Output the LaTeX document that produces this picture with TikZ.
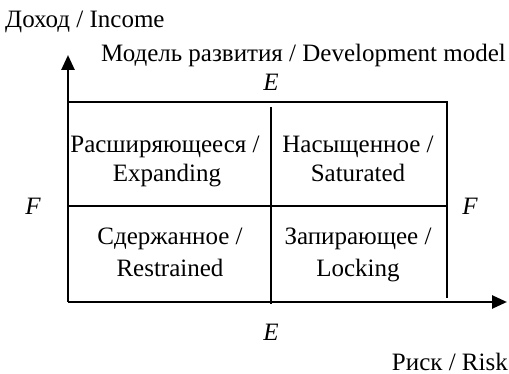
\documentclass[tikz,border=0pt]{standalone}
\usepackage{fontspec}
\setmainfont{Liberation Serif}
\usetikzlibrary{arrows.meta}
\begin{document}
\begin{tikzpicture}[x=1pt,y=-1pt,
  lbl/.style={anchor=base,inner sep=0pt,font=\fontsize{25}{29}\selectfont},
  axis/.style={line width=2.6pt,-{Triangle[length=15pt,width=13pt]}},
  grid/.style={line width=2pt}]
\useasboundingbox (0,0) rectangle (509,374);
\coordinate (O) at (68,302);
\coordinate (Ytip) at (68,55);
\coordinate (Xtip) at (507,302);
\coordinate (TL) at (68,102);
\coordinate (TR) at (447,102);
\coordinate (BR) at (447,298);
\coordinate (ML) at (68,206);
\coordinate (MR) at (447,206);
\coordinate (MT) at (271,107);
\coordinate (MB) at (271,304);
\draw[grid] (TL) -- (TR) -- (BR);
\draw[grid] (ML) -- (MR);
\draw[grid] (MT) -- (MB);
\draw[axis] (O) -- (Ytip);
\draw[axis] (O) -- (Xtip);
\node[lbl,anchor=base west] (inc) at (5,28) {Доход / Income};
\node[lbl,anchor=base east] (dev) at (506,62) {Модель развития / Development model};
\node[lbl] (Et) at (271,91) {\textit{E}};
\node[lbl] (Eb) at (271,340) {\textit{E}};
\node[lbl] (Fl) at (33,215) {\textit{F}};
\node[lbl] (Fr) at (470,215) {\textit{F}};
\node[lbl,anchor=base east] (risk) at (508,370) {Риск / Risk};
\node[lbl] (c1a) at (165,153) {Расширяющееся /};
\node[lbl] (c1b) at (167,182) {Expanding};
\node[lbl] (c2a) at (358,153) {Насыщенное /};
\node[lbl] (c2b) at (358,182) {Saturated};
\node[lbl] (c3a) at (170,245) {Сдержанное /};
\node[lbl] (c3b) at (170,277) {Restrained};
\node[lbl] (c4a) at (358,245) {Запирающее /};
\node[lbl] (c4b) at (358,277) {Locking};
\end{tikzpicture}
\end{document}
